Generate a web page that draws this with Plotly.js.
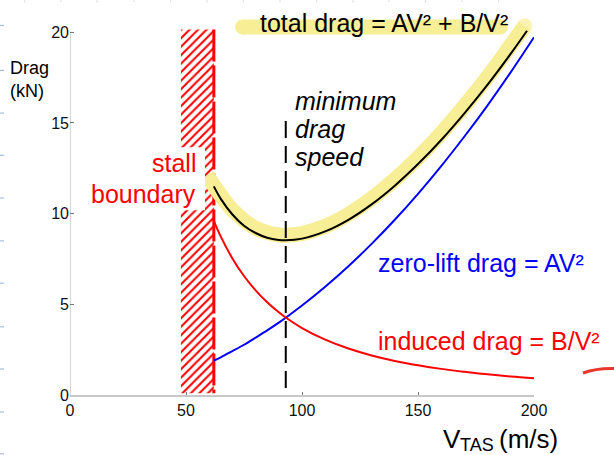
<!DOCTYPE html>
<html>
<head>
<meta charset="utf-8">
<script src="https://cdn.plot.ly/plotly-3.0.1.min.js"></script>
<style>html,body{margin:0;padding:0;background:#fff;}#chart{width:614px;height:455px;}</style>
</head>
<body>
<div id="chart"></div>
<script>
// ---- data ----
const speeds = [62, 65, 70, 75, 80, 85, 90, 93, 100, 110, 120, 130, 140, 150, 160, 170, 180, 190, 200];
const zeroLiftDrag = [1.90, 2.08, 2.42, 2.77, 3.16, 3.56, 3.99, 4.26, 4.93, 5.97, 7.10, 8.33, 9.66, 11.09, 12.62, 14.25, 15.97, 17.80, 19.72];
const inducedDrag = [9.60, 8.73, 7.53, 6.56, 5.77, 5.11, 4.56, 4.27, 3.69, 3.05, 2.56, 2.18, 1.88, 1.64, 1.44, 1.28, 1.14, 1.02, 0.92];
const totalSpeeds = [62, 65, 70, 75, 80, 85, 90, 93, 100, 110, 120, 130, 140, 150, 160, 170, 180, 190, 197];
const totalDrag = [11.50, 10.81, 9.95, 9.33, 8.93, 8.67, 8.55, 8.53, 8.62, 9.02, 9.66, 10.51, 11.54, 12.73, 14.06, 15.53, 17.11, 18.82, 20.08];
const highlightSpeeds = [59, 62, 65, 70, 80, 90, 93, 100, 110, 120, 130, 140, 150, 160, 170, 180, 190, 196];
const highlightDrag = [12.1, 11.55, 11.0, 10.2, 9.2, 8.82, 8.8, 8.9, 9.3, 9.96, 10.83, 11.88, 13.08, 14.43, 15.93, 17.53, 19.28, 20.35];
const stallSpeedLow = 47.8, stallSpeed = 62;
const stallDragLow = 0.1, stallDragHigh = 20.15;
const minDragSpeed = 93, minDragLineTop = 15.1;
const xTicks = [0, 50, 100, 150, 200];
const yTicks = [0, 5, 10, 15, 20];

// ---- pixel helpers for decorations ----
const L = 70, R = 534, T = 4.5, B = 395;
const px = x => (x - L) / (R - L);
const py = y => (B - y) / (B - T);

const FONT = 'Liberation Sans, Arial, Helvetica, sans-serif';
const RED = '#ff0000', BLUE = '#0000ff', YEL = '#f8ee96';

const traces = [
  { // stall hatch
    x: [stallSpeedLow, stallSpeed, stallSpeed, stallSpeedLow, stallSpeedLow],
    y: [stallDragLow, stallDragLow, stallDragHigh, stallDragHigh, stallDragLow],
    mode: 'lines', fill: 'toself', line: {width: 0, color: RED},
    fillcolor: 'white',
    fillpattern: {shape: '/', fgcolor: RED, bgcolor: 'white', size: 6, solidity: 0.35},
    hoverinfo: 'skip'
  },
  { // stall edge
    x: [stallSpeed, stallSpeed], y: [stallDragHigh, stallDragLow],
    mode: 'lines', line: {color: RED, width: 3, dash: '32px,4px'}, hoverinfo: 'skip'
  },
  { // highlighter
    x: highlightSpeeds, y: highlightDrag, mode: 'lines+markers',
    line: {color: YEL, width: 15, shape: 'spline'},
    marker: {color: YEL, size: highlightSpeeds.map((v, i) => (i === highlightSpeeds.length - 1) ? 15 : 0), line: {width: 0}},
    hoverinfo: 'skip'
  },
  {x: speeds, y: zeroLiftDrag, mode: 'lines', line: {color: BLUE, width: 2, shape: 'spline'}},
  {x: speeds, y: inducedDrag, mode: 'lines', line: {color: RED, width: 2, shape: 'spline'}},
  {x: totalSpeeds, y: totalDrag, mode: 'lines', line: {color: '#000', width: 2, shape: 'spline'}},
  {x: [minDragSpeed, minDragSpeed], y: [minDragLineTop, 0], mode: 'lines', line: {color: '#000', width: 2, dash: '17px,8px'}}
];

const shapes = [];
// title highlight band
shapes.push({type: 'rect', xref: 'paper', yref: 'paper', x0: px(242), x1: px(501), y0: py(34), y1: py(19), fillcolor: YEL, line: {width: 0}, layer: 'below'});
shapes.push({type: 'circle', xref: 'paper', yref: 'paper', x0: px(235), x1: px(250), y0: py(34), y1: py(19), fillcolor: YEL, line: {width: 0}, layer: 'below'});
shapes.push({type: 'circle', xref: 'paper', yref: 'paper', x0: px(493), x1: px(508), y0: py(34), y1: py(19), fillcolor: YEL, line: {width: 0}, layer: 'below'});
// white box behind stall text
shapes.push({type: 'rect', xref: 'paper', yref: 'paper', x0: px(176), x1: px(205), y0: py(210), y1: py(147), fillcolor: 'white', line: {width: 0}, layer: 'above'});
// y axis line
shapes.push({type: 'line', xref: 'x', yref: 'y', x0: 0, x1: 0, y0: 0, y1: 20, line: {color: '#c8c8c8', width: 1.5}, layer: 'below'});
// red hand mark
shapes.push({type: 'path', xref: 'paper', yref: 'paper',
  path: `M ${px(583)},${py(373)} Q ${px(597)},${py(368)} ${px(614)},${py(368.5)}`,
  line: {color: '#e8352e', width: 3}, layer: 'above'});
// left edge light-blue marks
[25, 70, 112.7, 155, 197.7, 240.7, 283, 326.7, 369, 412, 454].forEach(y => {
  shapes.push({type: 'line', xref: 'paper', yref: 'paper', x0: px(0), x1: px(4), y0: py(y), y1: py(y), line: {color: '#a9bde0', width: 1.2}});
});
// top edge faint marks
[24.7, 61, 97, 134, 170.7, 207, 243.3, 280, 316.7, 353, 389, 425.7, 462, 498.7].forEach(x => {
  shapes.push({type: 'line', xref: 'paper', yref: 'paper', x0: px(x), x1: px(x), y0: py(0), y1: py(1.5), line: {color: '#c8c8c8', width: 1}});
});

function ann(text, x, y, xa, ya, size, color, style) {
  return {text, x, y, xref: 'paper', yref: 'paper', xanchor: xa, yanchor: ya, showarrow: false,
    font: {family: FONT, size, color, style: style || 'normal'}, align: xa === 'right' ? 'right' : 'left'};
}
const annotations = [
  ann('Drag', px(8), py(80), 'left', 'bottom', 18, '#000'),
  ann('(kN)', px(8), py(103), 'left', 'bottom', 18, '#000'),
  ann('total drag = AV² + B/V²', px(384), py(39), 'center', 'bottom', 25, '#000'),
  ann('minimum', px(293), py(117), 'left', 'bottom', 25, '#000', 'italic'),
  ann('drag', px(293), py(145), 'left', 'bottom', 25, '#000', 'italic'),
  ann('speed', px(293), py(173), 'left', 'bottom', 25, '#000', 'italic'),
  ann('stall', px(198), py(179), 'right', 'bottom', 25, RED),
  ann('boundary', px(198), py(210), 'right', 'bottom', 25, RED),
  ann('zero-lift drag = AV²', px(376), py(278.7), 'left', 'bottom', 25, BLUE),
  ann('induced drag = B/V²', px(376), py(357), 'left', 'bottom', 25, RED),
  ann('V', px(441), py(456), 'left', 'bottom', 26, '#000'),
  ann('TAS', px(458), py(457), 'left', 'bottom', 18, '#000'),
  ann('(m/s)', px(497), py(456), 'left', 'bottom', 26, '#000')
];

const layout = {
  width: 614, height: 455,
  margin: {l: L, r: 614 - R, t: T, b: 455 - B, pad: 0},
  paper_bgcolor: '#fff', plot_bgcolor: 'rgba(0,0,0,0)',
  showlegend: false,
  font: {family: FONT, color: '#000'},
  xaxis: {range: [0, 200], tickvals: xTicks, ticktext: xTicks.map(String), showline: true, linecolor: '#c8c8c8', linewidth: 1.5,
    ticks: 'inside', ticklen: 3, tickcolor: '#777', tickwidth: 1, showgrid: false, zeroline: false,
    tickfont: {family: FONT, size: 16, color: '#111'}, fixedrange: true},
  yaxis: {range: [0, 21.5], tickvals: yTicks, ticktext: yTicks.map(String), showline: false,
    ticks: 'inside', ticklen: 4, tickcolor: '#777', tickwidth: 1, showgrid: false, zeroline: false,
    tickfont: {family: FONT, size: 16, color: '#111'}, fixedrange: true},
  shapes, annotations
};

Plotly.newPlot('chart', traces, layout, {displayModeBar: false, staticPlot: true});
</script>
</body>
</html>
